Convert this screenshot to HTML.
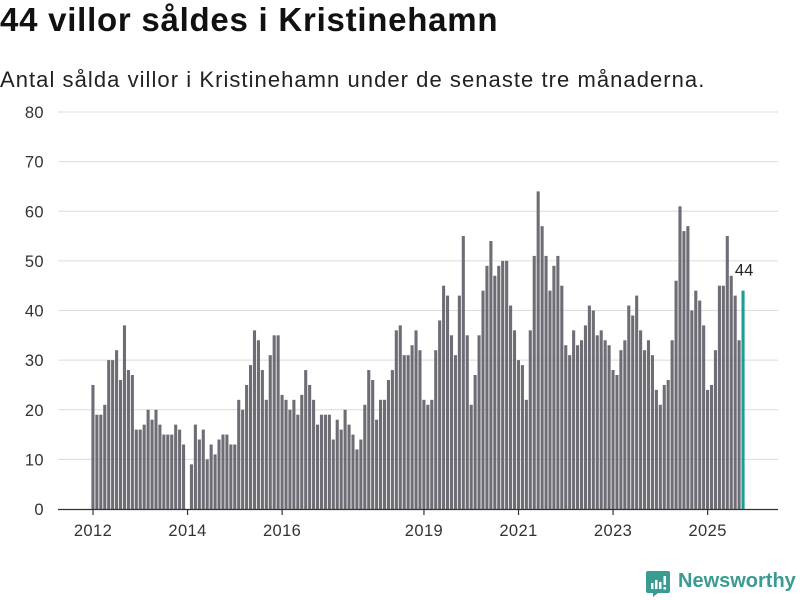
<!DOCTYPE html>
<html><head><meta charset="utf-8">
<style>
body{margin:0;background:#fff;font-family:"Liberation Sans",sans-serif;}
#wrap{position:relative;width:800px;height:600px;overflow:hidden;}
h1{position:absolute;left:0;top:1px;margin:0;font-size:33px;font-weight:bold;color:#111;letter-spacing:0.75px}
.sub{position:absolute;left:0;top:67px;font-size:22px;color:#222;letter-spacing:1.05px}
.logo{position:absolute;left:645px;top:570px;}
.logotext{position:absolute;left:678px;top:570px;font-size:20px;color:#3a9b92;font-weight:bold;}
</style></head><body>
<div id="wrap">
<h1>44 villor såldes i Kristinehamn</h1>
<div class="sub">Antal sålda villor i Kristinehamn under de senaste tre månaderna.</div>
<svg id="chart" width="800" height="600" style="position:absolute;left:0;top:0"></svg>
<svg class="logo" width="26" height="28">
<path d="M3 1h20a2 2 0 0 1 2 2v18a2 2 0 0 1-2 2H13l-5 4v-4H3a2 2 0 0 1-2-2V3a2 2 0 0 1 2-2z" fill="#3a9b92"/>
<rect x="6" y="13" width="2.5" height="6" fill="#fff"/><rect x="10" y="10" width="2.5" height="9" fill="#fff"/><rect x="14" y="12" width="2.5" height="7" fill="#fff"/><rect x="18.5" y="6" width="2.5" height="9" fill="#fff"/><rect x="18.5" y="17" width="2.5" height="2.5" fill="#fff"/>
</svg>
<div class="logotext">Newsworthy</div>
</div>
<script>
const yTicks=[0,10,20,30,40,50,60,70,80];
const xTickYears=[2012,2014,2016,2019,2021,2023,2025];
const startYear=2012;
const values=[
25,19,19,21,30,30,32,26,37,28,27,16,
16,17,20,18,20,17,15,15,15,17,16,13,
0,9,17,14,16,10,13,11,14,15,15,13,
13,22,20,25,29,36,34,28,22,31,35,35,
23,22,20,22,19,23,28,25,22,17,19,19,
19,14,18,16,20,17,15,12,14,21,28,26,
18,22,22,26,28,36,37,31,31,33,36,32,
22,21,22,32,38,45,43,35,31,43,55,35,
21,27,35,44,49,54,47,49,50,50,41,36,
30,29,22,36,51,64,57,51,44,49,51,45,
33,31,36,33,34,37,41,40,35,36,34,33,
28,27,32,34,41,39,43,36,32,34,31,24,
21,25,26,34,46,61,56,57,40,44,42,37,
24,25,32,45,45,55,47,43,34,44];
const NS='http://www.w3.org/2000/svg';
const svg=document.getElementById('chart');
const y0=509,yPer=4.9625,x0=93,xPer=3.94;
const yScale=v=>y0-v*yPer;
const xScale=i=>x0+i*xPer;
function mk(t,a){const e=document.createElementNS(NS,t);for(const k in a)e.setAttribute(k,a[k]);svg.appendChild(e);return e;}
yTicks.forEach(t=>{
  if(t>0){const g=mk('line',{x1:58,x2:778,y1:yScale(t),y2:yScale(t),stroke:'#dcdcdc','stroke-width':1});
  
  }
  const l=mk('text',{x:44,y:yScale(t)+6,'text-anchor':'end','font-size':16.5,fill:'#333','font-family':'Liberation Sans, sans-serif','letter-spacing':'0.4'});
  l.textContent=t;
  
  
});
values.forEach((v,i)=>{
  if(v<=0)return;
  const last=i===values.length-1;
  const r=mk('rect',{x:xScale(i)-1.6,y:yScale(v),width:3.1,height:v*yPer,fill:last?'#1a9e96':'#6e6d75'});
  
  
});
const lastI=values.length-1;
const vl=mk('text',{x:xScale(lastI)+1,y:yScale(values[lastI])-15,'text-anchor':'middle','font-size':16.5,fill:'#222','font-family':'Liberation Sans, sans-serif'});
vl.textContent=values[lastI];


const ax=mk('line',{x1:58,x2:778,y1:509.5,y2:509.5,stroke:'#333','stroke-width':1.2});


xTickYears.forEach(yr=>{
  const x=xScale((yr-startYear)*12);
  const tk=mk('line',{x1:x,x2:x,y1:510,y2:515,stroke:'#333','stroke-width':1.2});
  
  
  const l=mk('text',{x:x,y:536,'text-anchor':'middle','font-size':16.5,fill:'#333','font-family':'Liberation Sans, sans-serif','letter-spacing':'0.4'});
  l.textContent=yr;
  
  
});
</script>
</body></html>
